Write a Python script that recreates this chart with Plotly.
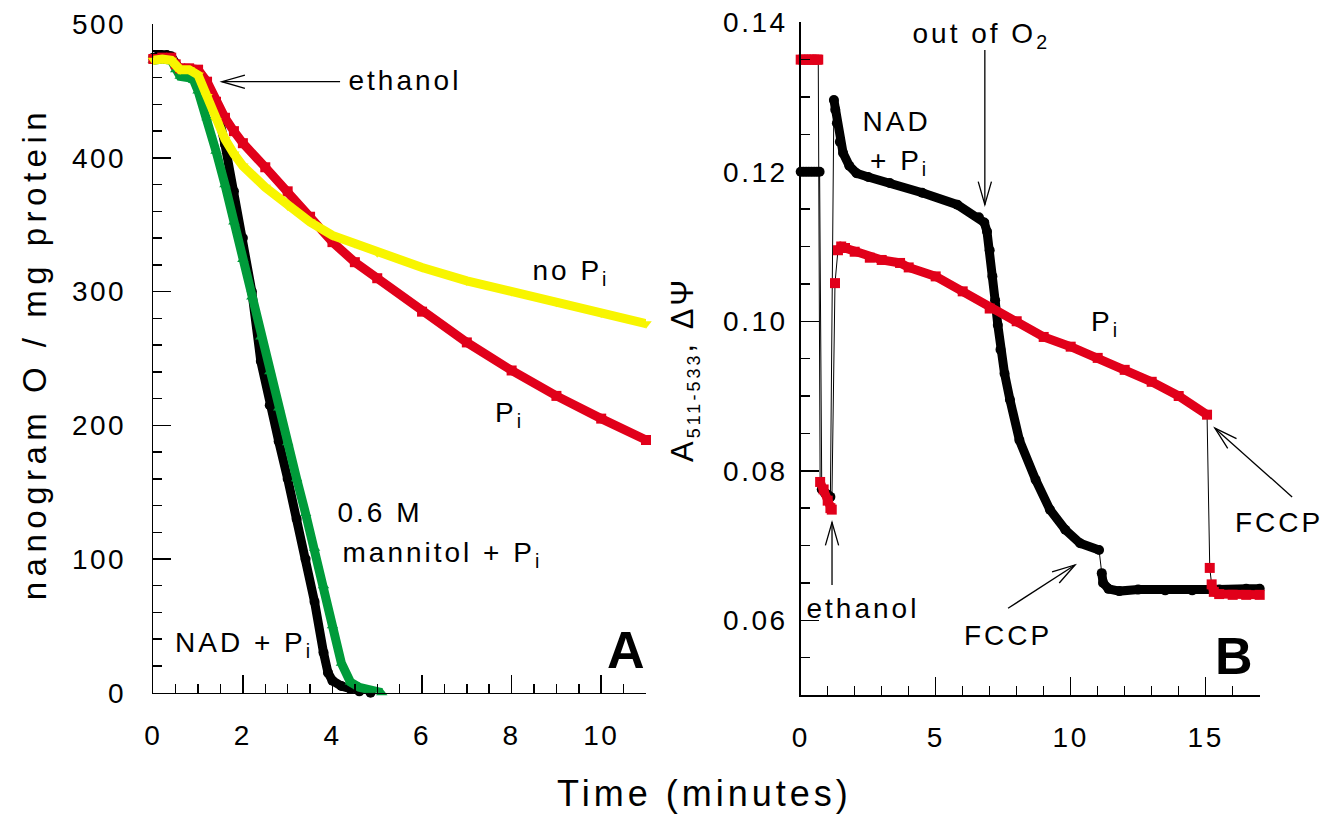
import math
import plotly.graph_objects as go

# ---------------- Panel A data (nanogram O / mg protein vs time, min) ----------------
a_nad_t = [0, 0.1, 0.2, 0.3, 0.4, 0.5, 0.6, 0.8, 1.0, 1.2, 1.4, 1.6, 1.8, 2.0, 2.2, 2.4, 2.6,
           2.8, 3.0, 3.2, 3.4, 3.6, 3.8, 3.9, 4.0, 4.2, 4.4, 4.6, 4.85]
a_nad_v = [475, 476, 477, 477, 476, 470, 466, 465, 463, 455, 440, 410, 375, 340, 300, 248, 215,
           188, 160, 130, 100, 68, 30, 15, 9, 5, 3, 1, 0]

a_mannitol_t = [0, 0.2, 0.4, 0.5, 0.6, 0.8, 0.9, 1.0, 1.2, 1.4, 1.6, 1.8, 2.0, 2.2, 2.4, 2.6,
                2.8, 3.0, 3.2, 3.4, 3.6, 3.8, 4.0, 4.2, 4.4, 4.6, 4.8, 5.1]
a_mannitol_v = [473, 474, 473, 466, 461, 460, 458, 450, 430, 405, 380, 352, 324, 296, 266, 240,
                213, 187, 160, 134, 108, 80, 50, 22, 8, 4, 2, 0]

a_pi_t = [0, 0.2, 0.4, 0.5, 0.6, 0.8, 1.0, 1.2, 1.4, 1.6, 1.8, 2.0, 2.5, 3.0, 3.5, 4.0, 4.5,
          5.0, 6.0, 7.0, 8.0, 9.0, 10.0, 11.0]
a_pi_v = [474, 475, 475, 470, 467, 467, 466, 457, 442, 430, 420, 411, 393, 375, 356, 337, 322,
          310, 285, 262, 241, 222, 205, 189]

a_nopi_t = [0, 0.2, 0.4, 0.5, 0.6, 0.8, 1.0, 1.2, 1.4, 1.6, 1.8, 2.0, 2.5, 3.0, 3.5, 4.0, 4.5,
            5.0, 6.0, 7.0, 8.0, 9.0, 10.0, 11.0]
a_nopi_v = [473, 474, 473, 468, 466, 466, 462, 446, 428, 414, 403, 394, 378, 364, 352, 342, 336,
            329, 318, 308, 300, 292, 284, 276]

# ---------------- Panel B data (A511-533 vs time, min) ----------------
b_nad_t = [0, 0.1, 0.2, 0.3, 0.4, 0.5, 0.6, 0.7,
           0.78, 0.9, 1.0, 1.1,
           1.23, 1.28, 1.34, 1.45, 1.57, 1.8, 2.07, 2.5, 3.3, 4.5, 5.8, 6.6, 6.8, 6.9, 7.0,
           7.1, 7.2, 7.3, 7.4, 7.55, 7.75, 8.1, 8.7, 9.23, 9.8, 10.35, 11.05,
           11.15, 11.2, 11.4, 11.8, 12.5, 13.5, 14.5, 15.5, 16.5, 17.0]
b_nad_v = [0.120, 0.120, 0.120, 0.120, 0.120, 0.120, 0.120, 0.120,
           0.0775, 0.0770, 0.0768, 0.0765,
           0.1296, 0.1283, 0.1265, 0.1240, 0.1225, 0.1208, 0.1198, 0.1193, 0.1185, 0.1172,
           0.1156, 0.1139, 0.1132, 0.1120, 0.1095, 0.1060, 0.1028, 0.0995, 0.0962, 0.0930,
           0.0895, 0.0841, 0.0788, 0.0748, 0.0721, 0.0703, 0.0694,
           0.0663, 0.0650, 0.0642, 0.0639, 0.0641, 0.0640, 0.0640, 0.0641, 0.0642, 0.0642]
b_nad_breaks = [7, 11, 38]          # index after which the trace jumps (thin connector only)

b_pi_t = [0, 0.1, 0.2, 0.3, 0.4, 0.5, 0.6, 0.65,
          0.72, 0.85, 1.0, 1.1, 1.15,
          1.27,
          1.38, 1.5, 1.64, 2.0, 2.56, 3.0, 3.68, 4.0, 5.0, 6.0, 7.0, 8.0, 9.0, 10.0, 11.0,
          12.0, 13.0, 14.0, 15.05,
          15.15,
          15.22, 15.3, 15.5, 16.0, 16.5, 17.0]
b_pi_v = [0.135, 0.135, 0.135, 0.135, 0.135, 0.135, 0.135, 0.135,
          0.0785, 0.0775, 0.0760, 0.0750, 0.0748,
          0.1051,
          0.1095, 0.1100, 0.1098, 0.1093, 0.1085, 0.1082, 0.1078, 0.1072, 0.1060, 0.1040,
          0.1017, 0.1000, 0.0979, 0.0966, 0.0951, 0.0935, 0.0919, 0.0900, 0.0875,
          0.0670,
          0.0648, 0.0638, 0.0635, 0.0634, 0.0634, 0.0634]
b_pi_breaks = [7, 12, 13, 32, 33]

FONT = "Liberation Sans, Arial, Helvetica, sans-serif"
BLACK = "#000000"
RED = "#E1001A"
YELLOW = "#F8F500"
GREEN = "#009B3A"

W, H = 1328, 814
# axis geometry (paper fractions, margins are zero)
XA_DOM = [153.3 / W, 646 / W]
YA_DOM = [1 - 692.7 / H, 1 - 24.2 / H]
XB_DOM = [800.7 / W, 1259.7 / W]
YB_DOM = [1 - 695 / H, 1 - 22.25 / H]
XA_RANGE, YA_RANGE = [0, 11], [0, 500]
XB_RANGE, YB_RANGE = [0, 17], [0.05, 0.14]


def with_gaps(t, v, breaks):
    xs, ys = [], []
    for i, (a, b) in enumerate(zip(t, v)):
        xs.append(a)
        ys.append(b)
        if i in breaks:
            xs.append(None)
            ys.append(None)
    return xs, ys


fig = go.Figure()

# Panel A traces
for t, v, col, sym in [
    (a_nad_t, a_nad_v, BLACK, "circle"),
    (a_mannitol_t, a_mannitol_v, GREEN, "triangle-up"),
    (a_pi_t, a_pi_v, RED, "square"),
    (a_nopi_t, a_nopi_v, YELLOW, "triangle-down"),
]:
    fig.add_trace(go.Scatter(x=t, y=v, xaxis="x", yaxis="y", mode="lines+markers",
                             line=dict(color=col, width=9),
                             marker=dict(symbol=sym, size=10, color=col, line=dict(width=0)),
                             cliponaxis=False, showlegend=False, hoverinfo="skip"))

# Panel B traces: thin black connector + thick series
for t, v, brk, col, sym in [
    (b_nad_t, b_nad_v, b_nad_breaks, BLACK, "circle"),
    (b_pi_t, b_pi_v, b_pi_breaks, RED, "square"),
]:
    fig.add_trace(go.Scatter(x=t, y=v, xaxis="x2", yaxis="y2", mode="lines",
                             line=dict(color=BLACK, width=1), cliponaxis=False,
                             showlegend=False, hoverinfo="skip"))
    gx, gy = with_gaps(t, v, brk)
    fig.add_trace(go.Scatter(x=gx, y=gy, xaxis="x2", yaxis="y2", mode="lines+markers",
                             line=dict(color=col, width=9),
                             marker=dict(symbol=sym, size=10, color=col, line=dict(width=0)),
                             connectgaps=False, cliponaxis=False, showlegend=False,
                             hoverinfo="skip"))

axis_common = dict(showline=True, linecolor=BLACK, linewidth=1.5, showgrid=False,
                   zeroline=False, ticks="inside", ticklen=18, tickwidth=1.5,
                   tickcolor=BLACK, tickfont=dict(family=FONT, size=28, color=BLACK))


def minor(dt):
    return dict(ticks="inside", ticklen=9, tickwidth=1.5, tickcolor=BLACK, dtick=dt,
                showgrid=False)


fig.update_layout(
    width=W, height=H,
    margin=dict(l=0, r=0, t=0, b=0, autoexpand=False),
    paper_bgcolor="white", plot_bgcolor="white",
    showlegend=False, hovermode=False,
    xaxis=dict(domain=XA_DOM, range=XA_RANGE, dtick=2, tick0=0, anchor="y",
               ticklabelstandoff=17, minor=minor(0.5), **axis_common),
    yaxis=dict(domain=YA_DOM, range=YA_RANGE, dtick=100, tick0=0, anchor="x",
               ticklabelstandoff=20, minor=minor(20), **axis_common),
    xaxis2=dict(domain=XB_DOM, range=XB_RANGE, dtick=5, tick0=0, anchor="y2",
                ticklabelstandoff=17, minor=minor(1), **axis_common),
    yaxis2=dict(domain=YB_DOM, range=YB_RANGE, dtick=0.02, tick0=0, tickformat=".2f",
                anchor="x2", ticklabelstandoff=6, minor=minor(0.005), **axis_common),
)

TXT = dict(family=FONT, size=28, color=BLACK)
ann = []
shapes = []


def to_paper(x, y, panel):
    xd, yd, xr, yr = ((XA_DOM, YA_DOM, XA_RANGE, YA_RANGE) if panel == "A"
                      else (XB_DOM, YB_DOM, XB_RANGE, YB_RANGE))
    px = xd[0] + (x - xr[0]) / (xr[1] - xr[0]) * (xd[1] - xd[0])
    py = yd[0] + (y - yr[0]) / (yr[1] - yr[0]) * (yd[1] - yd[0])
    return px, py


def label(text, x, y, panel, font=TXT):
    px, py = to_paper(x, y, panel)
    ann.append(dict(text=text, x=px, y=py, xref="paper", yref="paper", xanchor="center",
                    yanchor="middle", showarrow=False, font=font))


def arrow(x, y, ax, ay, panel, head=24, half_angle=16):
    tx, ty = to_paper(x, y, panel)
    sx, sy = to_paper(ax, ay, panel)
    shapes.append(dict(type="line", xref="paper", yref="paper", x0=sx, y0=sy, x1=tx, y1=ty,
                       line=dict(color=BLACK, width=1.3)))
    dx, dy = (sx - tx) * W, (sy - ty) * H          # pixels, y up
    n = math.hypot(dx, dy)
    ux, uy = dx / n, dy / n
    pts = []
    for s in (1, -1):
        a = math.radians(half_angle) * s
        pts.append((head * (ux * math.cos(a) - uy * math.sin(a)),
                    head * (ux * math.sin(a) + uy * math.cos(a))))
    path = "M{:.2f},{:.2f} L0,0 L{:.2f},{:.2f}".format(pts[0][0], pts[0][1],
                                                       pts[1][0], pts[1][1])
    shapes.append(dict(type="path", xref="paper", yref="paper", xsizemode="pixel",
                       ysizemode="pixel", xanchor=tx, yanchor=ty, path=path,
                       line=dict(color=BLACK, width=1.3)))


BIG = dict(family=FONT, size=52, color=BLACK)

# Panel A annotations
label("ethanol", 5.63, 458, "A")
arrow(1.53, 457, 4.17, 457, "A")
label("no P<sub>i</sub>", 9.33, 314, "A")
label("P<sub>i</sub>", 7.96, 208, "A")
label("0.6 M", 5.06, 135, "A")
label("mannitol + P<sub>i</sub>", 6.46, 103, "A")
label("NAD + P<sub>i</sub>", 2.03, 36, "A")
label("<b>A</b>", 10.56, 32, "A", font=BIG)

# Panel B annotations
label("out of O<sub>2</sub>", 6.68, 0.1382, "B")
arrow(6.82, 0.1156, 6.82, 0.1363, "B")
label("NAD", 3.53, 0.1267, "B")
label("+ P<sub>i</sub>", 3.67, 0.1212, "B")
label("P<sub>i</sub>", 11.3, 0.0997, "B")
label("ethanol", 2.31, 0.0616, "B")
arrow(1.16, 0.0731, 1.16, 0.0647, "B")
label("FCCP", 7.68, 0.0580, "B")
arrow(10.16, 0.0674, 7.68, 0.0616, "B")
label("FCCP", 17.72, 0.0731, "B")
arrow(15.34, 0.0857, 18.2, 0.0765, "B")
label("<b>B</b>", 16.05, 0.0552, "B", font=BIG)

# Axis titles
ann.append(dict(text="nanogram O / mg protein", x=34 / W, y=1 - 354 / H, xref="paper",
                yref="paper", textangle=-90, showarrow=False, xanchor="center",
                yanchor="middle", font=dict(family=FONT, size=33, color=BLACK)))
ann.append(dict(text="A<sub><span style='font-size:18px'>511-533</span></sub>, ΔΨ",
                x=684 / W, y=1 - 370 / H, xref="paper", yref="paper", textangle=-90,
                showarrow=False, xanchor="center", yanchor="middle",
                font=dict(family=FONT, size=31, color=BLACK)))
ann.append(dict(text="Time (minutes)", x=704 / W, y=1 - 793 / H, xref="paper",
                yref="paper", showarrow=False, xanchor="center", yanchor="middle",
                font=dict(family=FONT, size=36, color=BLACK)))

fig.update_layout(annotations=ann, shapes=shapes)

# Remove the default page margin and reproduce the reference's wide letter tracking.
post_js = """
(function(){
  document.documentElement.style.margin = '0';
  document.body.style.margin = '0';
  document.body.style.overflow = 'hidden';
  var gd = document.getElementById('{plot_id}');
  function track(){
    gd.querySelectorAll('g.xtick text, g.ytick text, g.x2tick text, g.y2tick text')
      .forEach(function(t){ t.style.letterSpacing = '2.5px'; });
    gd.querySelectorAll('text.annotation-text').forEach(function(t){
      var s = t.textContent;
      var sp = '3px';
      if (s.indexOf('nanogram') === 0) sp = '5.5px';
      else if (s.indexOf('Time') === 0) sp = '4px';
      else if (s === 'A' || s === 'B') sp = '0px';
      t.style.letterSpacing = sp;
    });
  }
  track();
  if (gd.on) gd.on('plotly_afterplot', track);
})();
"""
fig.write_html("out.html", post_script=post_js,
               config={"displayModeBar": False, "staticPlot": True})
